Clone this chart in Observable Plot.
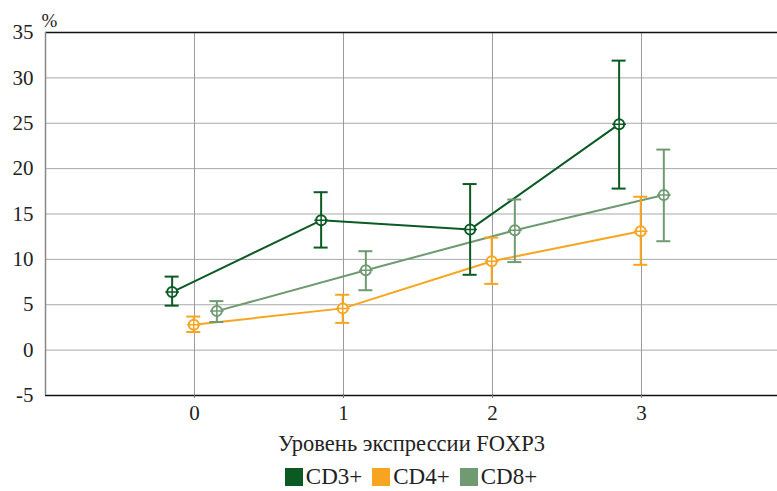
<!DOCTYPE html>
<html>
<head>
<meta charset="utf-8">
<script src="https://cdn.jsdelivr.net/npm/d3@7"></script>
<script src="https://cdn.jsdelivr.net/npm/@observablehq/plot@0.6"></script>
<style>
  html, body { margin: 0; padding: 0; background: #fff; }
  #wrap { position: relative; width: 777px; height: 491px; overflow: hidden; font-family: "Liberation Serif", serif; }
  #chart svg, #chart svg text { font-family: "Liberation Serif", serif !important; }
  #legend { position: absolute; left: 45px; width: 732px; top: 465px; height: 24px; display: flex; justify-content: center; align-items: center; font-size: 23px; line-height: 24px; color: #222; }
  .item { display: flex; align-items: center; margin: 0 5px; }
  .sw { width: 18px; height: 18px; margin-right: 3px; }
</style>
</head>
<body>
<div id="wrap"><div id="chart"></div><div id="legend"></div></div>
<script>
const categories = [0, 1, 2, 3];
const seriesNames = ["CD3+", "CD4+", "CD8+"];
const seriesColors = ["#0b5a24", "#f7a520", "#6f9a72"];
const cd3 = [6.4, 14.3, 13.3, 24.9];
const cd3Lo = [4.9, 11.3, 8.3, 17.8];
const cd3Hi = [8.1, 17.4, 18.3, 31.9];
const cd4 = [2.8, 4.6, 9.8, 13.1];
const cd4Lo = [2.0, 3.0, 7.3, 9.4];
const cd4Hi = [3.7, 6.1, 12.4, 16.9];
const cd8 = [4.3, 8.8, 13.2, 17.1];
const cd8Lo = [3.1, 6.6, 9.7, 12.0];
const cd8Hi = [5.4, 10.9, 16.6, 22.1];
const yTicks = [-5, 0, 5, 10, 15, 20, 25, 30, 35];
const xLabel = "Уровень экспрессии FOXP3";
const yLabel = "%";

const FONT = "Liberation Serif, serif";
const offsets = [-0.15, -0.005, 0.15];
const vals = [cd3, cd4, cd8], los = [cd3Lo, cd4Lo, cd8Lo], his = [cd3Hi, cd4Hi, cd8Hi];
const data = [];
seriesNames.forEach((s, i) => categories.forEach((c, j) => data.push({
  series: s, x: c + offsets[i], y: vals[i][j], lo: los[i][j], hi: his[i][j]
})));
const capHalf = 0.047;
const caps = data.flatMap(d => [
  {series: d.series, x1: d.x - capHalf, x2: d.x + capHalf, y: d.lo},
  {series: d.series, x1: d.x - capHalf, x2: d.x + capHalf, y: d.hi}
]);
const colorOpts = {domain: seriesNames, range: seriesColors};

const chart = Plot.plot({
  width: 777,
  height: 462,
  marginLeft: 45,
  marginRight: 0,
  marginTop: 32,
  marginBottom: 67,
  style: {fontFamily: FONT, fontSize: "20px", color: "#222", background: "#fff"},
  x: {domain: [-1, 3.913]},
  y: {domain: [-5, 35]},
  color: colorOpts,
  marks: [
    Plot.ruleY(yTicks.filter(t => t > -5 && t < 35), {stroke: "#a8a8a8", strokeWidth: 1}),
    Plot.ruleX(categories, {stroke: "#9a9a9a", strokeWidth: 1}),
    Plot.ruleY([35], {stroke: "#111", strokeWidth: 1.5}),
    Plot.ruleY([-5], {stroke: "#111", strokeWidth: 1.5}),
    Plot.ruleX([-1], {stroke: "#888", strokeWidth: 1.5}),
    Plot.axisY({ticks: yTicks, tickSize: 0, tickPadding: 12, label: null, fontSize: 21, fontFamily: FONT, tickFormat: d => d}),
    Plot.axisX({ticks: categories, tickSize: 3, tickPadding: 7, label: null, fontSize: 21, fontFamily: FONT, stroke: "#777", tickFormat: d => d}),
    Plot.text([xLabel], {frameAnchor: "bottom", dy: 48, lineAnchor: "middle", fontSize: 22.5, fontFamily: FONT, fill: "#222"}),
    Plot.text([yLabel], {frameAnchor: "top-left", dx: -4, dy: -12, lineAnchor: "middle", textAnchor: "start", fontSize: 19, fontFamily: FONT, fill: "#222"}),
    Plot.line(data, {x: "x", y: "y", z: "series", stroke: "series", strokeWidth: 2}),
    Plot.ruleX(data, {x: "x", y1: "lo", y2: "hi", stroke: "series", strokeWidth: 2}),
    Plot.ruleY(caps, {x1: "x1", x2: "x2", y: "y", stroke: "series", strokeWidth: 2}),
    Plot.dot(data, {x: "x", y: "y", stroke: "series", fill: "white", r: 5, strokeWidth: 2}),
    Plot.dot(data, {x: "x", y: "y", stroke: "series", symbol: "plus", r: 4.5, strokeWidth: 1.5})
  ]
});
document.getElementById("chart").appendChild(chart);

const legend = document.getElementById("legend");
seriesNames.forEach((s, i) => {
  const it = document.createElement("div");
  it.className = "item";
  const sw = document.createElement("div");
  sw.className = "sw";
  sw.style.background = seriesColors[i];
  const tx = document.createElement("span");
  tx.textContent = s;
  it.appendChild(sw); it.appendChild(tx);
  legend.appendChild(it);
});
</script>
</body>
</html>
